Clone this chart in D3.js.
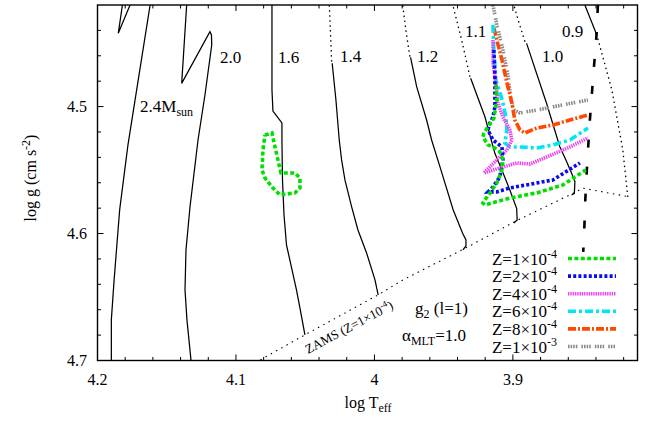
<!DOCTYPE html>
<html><head><meta charset="utf-8">
<script src="https://cdn.jsdelivr.net/npm/d3@7"></script>
<style>
body{margin:0;background:#fff}
text{font-family:"Liberation Serif","Times New Roman",serif;fill:#000}
</style>
</head><body>
<svg id="chart" width="648" height="422" font-family="Liberation Serif, Times New Roman, serif"></svg>
<script>
// Evolutionary tracks: [log Teff, log g]
const track24 = [[4.1906,4.711],[4.190,4.6995],[4.190,4.668],[4.188,4.6365],[4.184,4.5814],[4.178,4.5302],[4.170,4.4751],[4.162,4.420],[4.160,4.404],[4.169,4.404],[4.1765,4.420],[4.185,4.4423],[4.182,4.420],[4.181,4.404]];
const track20 = [[4.1318,4.709],[4.1325,4.6995],[4.1354,4.668],[4.1368,4.6444],[4.1361,4.6129],[4.1332,4.5791],[4.1274,4.5263],[4.1224,4.4909],[4.1175,4.4515],[4.1177,4.4436],[4.1188,4.441],[4.1392,4.4817],[4.1356,4.420],[4.135,4.408]];
const track16 = [[4.0502,4.6798],[4.0538,4.6586],[4.0563,4.6444],[4.0603,4.6247],[4.0635,4.6090],[4.0653,4.5854],[4.0664,4.5578],[4.0668,4.5263],[4.0668,4.5129],[4.0733,4.5035],[4.074,4.4869],[4.074,4.4554],[4.074,4.420]];
const track14 = [[3.9973,4.6483],[3.9996,4.6365],[4.0056,4.6155],[4.0119,4.5972],[4.0165,4.5788],[4.0213,4.5578],[4.0237,4.542],[4.0254,4.5263],[4.0278,4.4948],[4.0305,4.4659]];
const track14Late = [[4.0309,4.4646],[4.0318,4.44],[4.0326,4.420]];
const track12 = [[3.9361,4.6129],[3.9339,4.6098],[3.9339,4.605],[3.9363,4.5998],[3.9431,4.5814],[3.9527,4.5473],[3.9587,4.5263],[3.9623,4.5106],[3.9695,4.4843],[3.9739,4.4612]];
const track12Late = [[3.9744,4.4607],[3.9773,4.4397],[3.9796,4.420]];
const track11 = [[3.8993,4.5917],[3.8969,4.5893],[3.8973,4.5801],[3.9022,4.5657],[3.907,4.5525],[3.913,4.5368],[3.9202,4.508],[3.9305,4.4777]];
const track11Late = [[3.931,4.4765],[3.937,4.4476],[3.9431,4.4213],[3.9433,4.420]];
const track10 = [[3.8576,4.5696],[3.8556,4.5683],[3.8552,4.5591],[3.8576,4.5525],[3.8617,4.542],[3.8661,4.5316],[3.8757,4.4974],[3.8901,4.4502]];
const track10Late = [[3.8913,4.4489],[3.8962,4.4318],[3.8993,4.420]];
const track09Early = [[3.817,4.5712],[3.8206,4.5342],[3.8285,4.4869],[3.8394,4.4436]];
const track09 = [[3.8394,4.4436],[3.848,4.420]];
const zams = [[4.0899,4.7043],[4.0803,4.6982],[4.061,4.6864],[4.0502,4.6798],[3.9973,4.6483],[3.9794,4.6365],[3.9339,4.6113],[3.8986,4.5906],[3.8565,4.5683],[3.8495,4.5643],[3.8168,4.5709]];
const edgeLine = [[3.8386,4.420],[3.8396,4.4436],[3.8422,4.4791],[3.8444,4.5106],[3.8462,4.542],[3.8477,4.5735],[3.8487,4.605],[3.8492,4.6145]];

// g2 (l=1) boundaries for each metallicity
const z1e3 = [[3.9144,4.420],[3.9116,4.4357],[3.9072,4.4554],[3.9036,4.4751],[3.9014,4.4948],[3.8993,4.5027],[3.8949,4.505],[3.8827,4.5027],[3.8639,4.4987],[3.8458,4.4948]];
const z8e4 = [[3.9137,4.4381],[3.9116,4.4476],[3.9079,4.4633],[3.9036,4.4846],[3.9007,4.4972],[3.8986,4.5106],[3.8949,4.5184],[3.8913,4.5208],[3.8827,4.5169],[3.8711,4.5145],[3.8588,4.5106],[3.8458,4.5066]];
const z6e4 = [[3.9144,4.4357],[3.9137,4.4578],[3.9123,4.4791],[3.9094,4.4885],[3.9072,4.4972],[3.9051,4.5082],[3.9043,4.5184],[3.9058,4.5287],[3.9022,4.5318],[3.8949,4.5318],[3.8827,4.5326],[3.8711,4.5302],[3.8588,4.5263],[3.8458,4.5169]];
const z4e4 = [[3.9144,4.4476],[3.9144,4.4657],[3.9119,4.4846],[3.9108,4.4972],[3.9072,4.5082],[3.9022,4.5184],[3.9007,4.5263],[3.9043,4.5342],[3.9116,4.542],[3.9209,4.5523],[3.9072,4.5476],[3.8971,4.5444],[3.8877,4.5452],[3.8755,4.5397],[3.8588,4.5318],[3.8458,4.5247]];
const z2e4 = [[3.9137,4.4554],[3.913,4.4751],[3.913,4.5003],[3.9144,4.5082],[3.9166,4.5129],[3.918,4.5184],[3.9144,4.5263],[3.9079,4.5318],[3.9072,4.542],[3.9094,4.5554],[3.9144,4.5633],[3.918,4.5672],[3.9116,4.5672],[3.9022,4.5641],[3.8827,4.5602],[3.8711,4.5578],[3.8516,4.5444]];
const z1e4 = [[3.9123,4.483],[3.9116,4.4948],[3.9137,4.509],[3.918,4.5161],[3.9209,4.5208],[3.9217,4.5239],[3.918,4.5302],[3.913,4.5326],[3.9094,4.5357],[3.9072,4.542],[3.9079,4.5499],[3.9116,4.5602],[3.9166,4.568],[3.9217,4.5759],[3.9202,4.5775],[3.9022,4.572],[3.8827,4.568],[3.8639,4.5617],[3.8473,4.5499]];
const z1e4Loop = [[4.0791,4.5224],[4.074,4.5208],[4.0718,4.5318],[4.0697,4.542],[4.0675,4.5523],[4.0574,4.5523],[4.0538,4.5562],[4.0538,4.5641],[4.0574,4.568],[4.0682,4.5696],[4.0733,4.5641],[4.0791,4.5562],[4.0812,4.5499],[4.0805,4.5342],[4.0791,4.5224]];

const legendMantissa = ["1","2","4","6","8","1"];
const legendExponent = ["-4","-4","-4","-4","-4","-3"];

const xMajor = [4.2, 4.1, 4.0, 3.9];
const xMajorLabels = ["4.2", "4.1", "4", "3.9"];
const yMajor = [4.5, 4.6, 4.7];
const yMajorLabels = ["4.5", "4.6", "4.7"];

const svg = d3.select("#chart");
const L = 97.5, R = 637.5, T = 5, B = 360.5;
const x = d3.scaleLinear().domain([4.2, 3.81]).range([L, R]);
const y = d3.scaleLinear().domain([4.42, 4.7]).range([T, B]);
const line = d3.line().x(d => x(d[0])).y(d => y(d[1]));

svg.append("defs").append("clipPath").attr("id", "plot")
  .append("rect").attr("x", L).attr("y", T).attr("width", R - L).attr("height", B - T);
const g = svg.append("g").attr("clip-path", "url(#plot)");

// tracks
const solid = [track24, track20, track16, track14, track12, track11, track10, track09];
solid.forEach(t => g.append("path").attr("d", line(t)).attr("fill", "none")
  .attr("stroke", "#000").attr("stroke-width", 1.25));
const dotted = [track14Late, track12Late, track11Late, track10Late, track09Early];
dotted.forEach(t => g.append("path").attr("d", line(t)).attr("fill", "none")
  .attr("stroke", "#000").attr("stroke-width", 1.3).attr("stroke-dasharray", "1.5,3.5"));
g.append("path").attr("d", line(zams)).attr("fill", "none")
  .attr("stroke", "#000").attr("stroke-width", 1.1).attr("stroke-dasharray", "1.5,4.5");
g.append("path").attr("d", line(edgeLine)).attr("fill", "none")
  .attr("stroke", "#000").attr("stroke-width", 2.6).attr("stroke-dasharray", "8,19");

// metallicity curves
const styles = [
  {data: z1e3, color: "#8c8c8c", dash: "1.6,1,1.6,1,1.6,1,1.6,4"},
  {data: z8e4, color: "#ff4800", dash: "8,2,2,2"},
  {data: z6e4, color: "#00e6f2", dash: "8,3,3,3"},
  {data: z4e4, color: "#f040f0", dash: "1.4,0.9"},
  {data: z2e4, color: "#0a0af2", dash: "3,2.2"},
  {data: z1e4, color: "#00e000", dash: "4,2.4"}
];
styles.forEach(s => g.append("path").attr("d", line(s.data)).attr("fill", "none")
  .attr("stroke", s.color).attr("stroke-width", 3.6).attr("stroke-dasharray", s.dash));
g.append("path").attr("d", line(z1e4Loop)).attr("fill", "none")
  .attr("stroke", "#00e000").attr("stroke-width", 3.6).attr("stroke-dasharray", "4,2.4");

// frame and ticks
svg.append("rect").attr("x", L).attr("y", T).attr("width", R - L).attr("height", B - T)
  .attr("fill", "none").attr("stroke", "#000").attr("stroke-width", 1.4);
const xMinor = d3.range(0, 20).map(i => +(4.2 - 0.02 * i).toFixed(2));
const yMinor = d3.range(1, 15).map(i => +(4.42 + 0.02 * i).toFixed(2));
const tk = svg.append("g").attr("stroke", "#000").attr("stroke-width", 1);
xMinor.forEach(v => {
  const len = xMajor.some(m => Math.abs(m - v) < 1e-6) ? 6 : 3.5;
  tk.append("line").attr("x1", x(v)).attr("x2", x(v)).attr("y1", B).attr("y2", B - len);
  tk.append("line").attr("x1", x(v)).attr("x2", x(v)).attr("y1", T).attr("y2", T + len);
});
yMinor.forEach(v => {
  const len = yMajor.some(m => Math.abs(m - v) < 1e-6) ? 6 : 3.5;
  tk.append("line").attr("y1", y(v)).attr("y2", y(v)).attr("x1", L).attr("x2", L + len);
  tk.append("line").attr("y1", y(v)).attr("y2", y(v)).attr("x1", R).attr("x2", R - len);
});
xMajor.forEach((v, i) => svg.append("text").attr("x", x(v)).attr("y", 385)
  .attr("text-anchor", "middle").attr("font-size", 16).text(xMajorLabels[i]));
yMajor.forEach((v, i) => svg.append("text").attr("x", 87).attr("y", y(v) + 5.5)
  .attr("text-anchor", "end").attr("font-size", 16).text(yMajorLabels[i]));

// axis titles
const xt = svg.append("text").attr("x", 368).attr("y", 408).attr("text-anchor", "middle").attr("font-size", 16);
xt.append("tspan").text("log T");
xt.append("tspan").attr("font-size", 12).attr("dy", 4).text("eff");
const yt = svg.append("text").attr("transform", "translate(36,178) rotate(-90)")
  .attr("text-anchor", "middle").attr("font-size", 16);
yt.append("tspan").text("log g (cm s");
yt.append("tspan").attr("font-size", 12).attr("dy", -6).text("-2");
yt.append("tspan").attr("dy", 6).text(")");

// mass labels
const m24 = svg.append("text").attr("x", 140).attr("y", 112).attr("font-size", 17);
m24.append("tspan").text("2.4M");
m24.append("tspan").attr("font-size", 12).attr("dy", 4).text("sun");
[["2.0", 220, 63], ["1.6", 278, 63], ["1.4", 340, 62], ["1.2", 417, 62],
 ["1.1", 465, 37], ["1.0", 542, 62], ["0.9", 562, 37]].forEach(d =>
  svg.append("text").attr("x", d[1]).attr("y", d[2]).attr("font-size", 17).text(d[0]));

// ZAMS label along the line
const zl = svg.append("text").attr("transform", "translate(351,331) rotate(-28)")
  .attr("text-anchor", "middle").attr("font-size", 13);
zl.append("tspan").text("ZAMS (Z=1×10");
zl.append("tspan").attr("font-size", 9).attr("dy", -5).text("-4");
zl.append("tspan").attr("dy", 5).text(")");

// mode and mixing-length annotation
const g2 = svg.append("text").attr("x", 415).attr("y", 314).attr("font-size", 17);
g2.append("tspan").text("g");
g2.append("tspan").attr("font-size", 12).attr("dy", 4).text("2");
g2.append("tspan").attr("dy", -4).text(" (l=1)");
const am = svg.append("text").attr("x", 402).attr("y", 341).attr("font-size", 17);
am.append("tspan").text("α");
am.append("tspan").attr("font-size", 12).attr("dy", 4).text("MLT");
am.append("tspan").attr("dy", -4).text("=1.0");

// legend
styles.slice().reverse().forEach((s, i) => {
  const yy = 258.5 + i * 17.6;
  svg.append("line").attr("x1", 568).attr("x2", 616).attr("y1", yy).attr("y2", yy)
    .attr("stroke", s.color).attr("stroke-width", 3.6).attr("stroke-dasharray", s.dash);
  const t = svg.append("text").attr("x", 557).attr("y", yy + 6).attr("text-anchor", "end").attr("font-size", 17);
  t.append("tspan").text("Z=" + legendMantissa[i] + "×10");
  t.append("tspan").attr("font-size", 12).attr("dy", -7).text(legendExponent[i]);
});
</script>
</body></html>
